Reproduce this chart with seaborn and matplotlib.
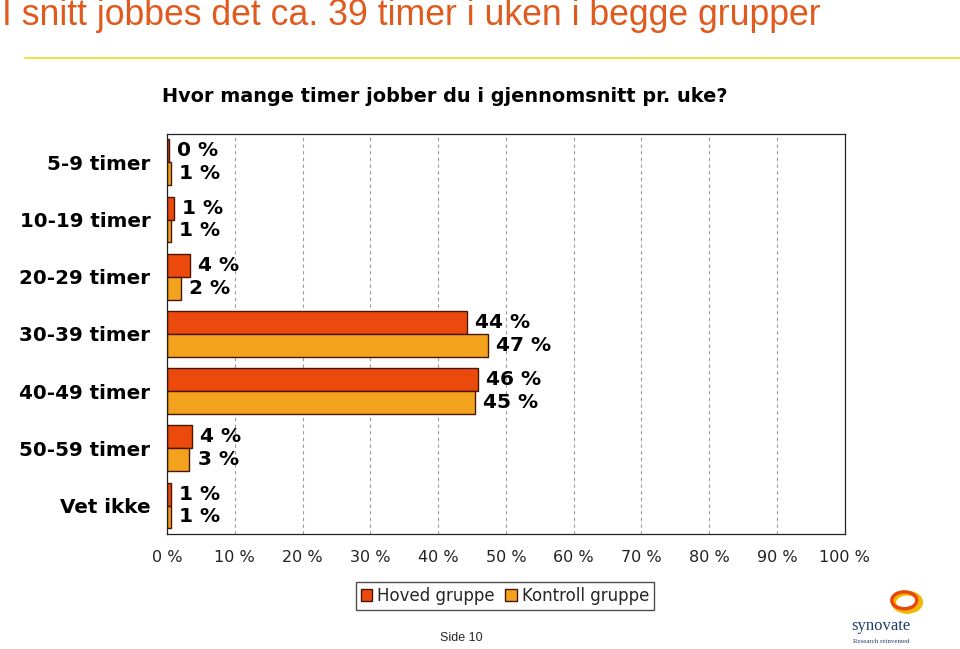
import matplotlib
matplotlib.use("Agg")
import matplotlib.pyplot as plt
from matplotlib.patches import Circle
import seaborn as sns
import pandas as pd
import numpy as np

categories = ["5-9 timer", "10-19 timer", "20-29 timer", "30-39 timer",
              "40-49 timer", "50-59 timer", "Vet ikke"]
hoved = [0.3, 1.0, 3.4, 44.2, 45.9, 3.7, 0.6]
kontroll = [0.6, 0.6, 2.0, 47.3, 45.4, 3.3, 0.6]
hoved_labels = ["0 %", "1 %", "4 %", "44 %", "46 %", "4 %", "1 %"]
kontroll_labels = ["1 %", "1 %", "2 %", "47 %", "45 %", "3 %", "1 %"]
groups = ["Hoved gruppe", "Kontroll gruppe"]
xticks = list(range(0, 101, 10))

df = pd.DataFrame({
    "kategori": categories * 2,
    "andel": hoved + kontroll,
    "gruppe": [groups[0]] * len(categories) + [groups[1]] * len(categories),
})

colors = ["#EC4A0C", "#F2A21C"]

sns.set_style("white")
plt.rcParams["font.family"] = ["DejaVu Sans"]

fig = plt.figure(figsize=(9.6, 6.49), dpi=100)
ax = fig.add_axes([0.174, 0.177, 0.706, 0.617])

sns.barplot(data=df, x="andel", y="kategori", hue="gruppe", orient="h",
            palette=colors, saturation=1, edgecolor="#4a1500", linewidth=1,
            width=0.8, ax=ax, legend=False)

for cont, labs in zip(ax.containers, [hoved_labels, kontroll_labels]):
    ax.bar_label(cont, labels=labs, padding=6, fontsize=14.5, fontweight="bold",
                 color="black")

ax.set_xlim(0, 100)
ax.set_ylim(6.5, -0.5)
ax.set_xticks(xticks)
ax.set_xticklabels([f"{t} %" for t in xticks], fontsize=11.5, color="#222222")
ax.tick_params(axis="x", direction="inout", length=7, width=0.8, pad=8)
ax.tick_params(axis="y", which="major", length=0, pad=12, labelsize=14.3,
               labelcolor="black")
for lab in ax.get_yticklabels():
    lab.set_fontweight("bold")
ax.set_yticks(np.arange(-0.5, 7, 1), minor=True)
ax.tick_params(axis="y", which="minor", direction="out", length=6, width=0.8)
ax.set_xlabel("")
ax.set_ylabel("")
ax.grid(axis="x", linestyle=(0, (3, 3)), color="#999999", linewidth=0.8)
ax.set_axisbelow(True)
for s in ax.spines.values():
    s.set_color("#222222")
    s.set_linewidth(0.9)

fig.text(0.169, 0.851, "Hvor mange timer jobber du i gjennomsnitt pr. uke?",
         fontsize=13.9, fontweight="bold", color="black", ha="left", va="center")

handles = [plt.Rectangle((0, 0), 1, 1, facecolor=c, edgecolor="#4a1500")
           for c in colors]
fig.legend(handles, groups, loc="center", bbox_to_anchor=(0.526, 0.082), ncol=2,
           frameon=True, fancybox=False, edgecolor="#222222", fontsize=12,
           handlelength=0.7, handleheight=0.7, handletextpad=0.3,
           columnspacing=0.6, borderpad=0.3)

fig.text(0.002, 0.961, "I snitt jobbes det ca. 39 timer i uken i begge grupper",
         fontsize=25.7, color="#E05A1E", family="Liberation Sans",
         ha="left", va="baseline")
fig.add_artist(plt.Line2D([0.026, 1.0], [0.91, 0.91], color="#EDE24A", lw=1.5))

fig.text(0.481, 0.017, "Side 10", fontsize=9, family="Liberation Sans",
         ha="center", va="center")

# logo
fig.add_artist(Circle((0.945, 0.072), 0.014, transform=fig.transFigure,
                      fill=False, edgecolor="#F5B800", lw=3.5))
fig.add_artist(Circle((0.942, 0.075), 0.013, transform=fig.transFigure,
                      fill=False, edgecolor="#E8480C", lw=2.5))
fig.text(0.918, 0.035, "synovate", fontsize=12, color="#1f3f6a",
         family="Liberation Serif", ha="center", va="center")
fig.text(0.918, 0.012, "Research reinvented", fontsize=5, color="#1f3f6a",
         family="Liberation Serif", ha="center", va="center")

fig.savefig("out.png", dpi=100)
